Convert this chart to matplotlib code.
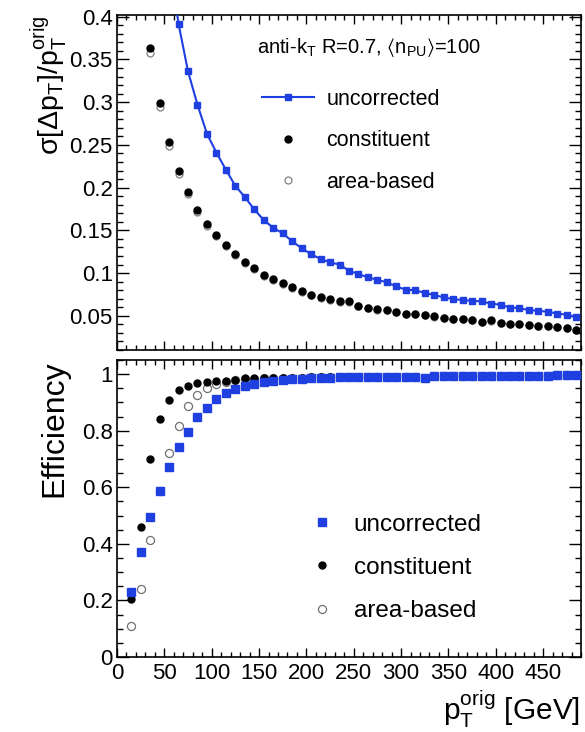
import matplotlib
matplotlib.use("Agg")
import matplotlib.pyplot as plt
from matplotlib.ticker import MultipleLocator, FuncFormatter

plt.rcParams['font.family'] = ['Liberation Sans', 'DejaVu Sans']
plt.rcParams['mathtext.fontset'] = 'custom'
plt.rcParams['mathtext.rm'] = 'Liberation Sans'
plt.rcParams['mathtext.it'] = 'Liberation Sans'
plt.rcParams['mathtext.bf'] = 'Liberation Sans:bold'
plt.rcParams['mathtext.default'] = 'regular'

# ---------------- data ----------------
# resolution panel
pt_unc_res = [55, 65, 75, 85, 95, 105, 115, 125, 135, 145, 155, 165, 175, 185, 195,
              205, 215, 225, 235, 245, 255, 265, 275, 285, 295, 305, 315, 325, 335,
              345, 355, 365, 375, 385, 395, 405, 415, 425, 435, 445, 455, 465, 475, 485]
res_uncorrected = [0.470, 0.3915, 0.336, 0.297, 0.263, 0.241, 0.221, 0.202, 0.189, 0.1745,
                   0.162, 0.153, 0.1466, 0.1372, 0.1292, 0.122, 0.1165, 0.1126, 0.1099,
                   0.1028, 0.0989, 0.095, 0.0922, 0.0891, 0.0844, 0.0805, 0.0800, 0.0767,
                   0.0745, 0.0715, 0.0696, 0.0684, 0.0676, 0.0668, 0.0644, 0.0629, 0.0597,
                   0.0590, 0.0567, 0.0559, 0.0547, 0.0527, 0.0512, 0.0488]

pt_res = [35, 45, 55, 65, 75, 85, 95, 105, 115, 125, 135, 145, 155, 165, 175, 185, 195,
          205, 215, 225, 235, 245, 255, 265, 275, 285, 295, 305, 315, 325, 335,
          345, 355, 365, 375, 385, 395, 405, 415, 425, 435, 445, 455, 465, 475, 485]
res_constituent = [0.363, 0.2985, 0.2534, 0.219, 0.1947, 0.1744, 0.157, 0.1447, 0.1333,
                   0.1224, 0.1134, 0.1055, 0.098, 0.0931, 0.0884, 0.0832, 0.0789, 0.0746,
                   0.0715, 0.0696, 0.0668, 0.0668, 0.0617, 0.0597, 0.0578, 0.0570, 0.0547,
                   0.0520, 0.0520, 0.0512, 0.0496, 0.0473, 0.0461, 0.0461, 0.0449, 0.0433,
                   0.0449, 0.0421, 0.0410, 0.0402, 0.0394, 0.0382, 0.0382, 0.0371, 0.0356,
                   0.0332]
res_area = [0.358, 0.294, 0.249, 0.216, 0.192, 0.172, 0.155, 0.143, 0.132, 0.121, 0.112,
            0.1045, 0.097, 0.092, 0.0875, 0.0825, 0.078, 0.074, 0.071, 0.069, 0.066,
            0.066, 0.061, 0.059, 0.0573, 0.0565, 0.0542, 0.0516, 0.0516, 0.0508, 0.0492,
            0.047, 0.0458, 0.0458, 0.0446, 0.043, 0.0445, 0.0418, 0.0407, 0.040, 0.0391,
            0.038, 0.038, 0.0368, 0.0354, 0.033]

# efficiency panel
pt_eff = [15, 25, 35, 45, 55, 65, 75, 85, 95, 105, 115, 125, 135, 145, 155, 165, 175,
          185, 195, 205, 215, 225, 235, 245, 255, 265, 275, 285, 295, 305, 315, 325,
          335, 345, 355, 365, 375, 385, 395, 405, 415, 425, 435, 445, 455, 465, 475, 485]
eff_uncorrected = [0.229, 0.370, 0.494, 0.588, 0.673, 0.744, 0.796, 0.849, 0.882, 0.912,
                   0.932, 0.946, 0.958, 0.965, 0.972, 0.977, 0.980, 0.983, 0.984, 0.986,
                   0.987, 0.988, 0.989, 0.989, 0.990, 0.990, 0.990, 0.991, 0.990, 0.991,
                   0.991, 0.988, 0.992, 0.992, 0.992, 0.993, 0.993, 0.993, 0.993, 0.993,
                   0.994, 0.994, 0.994, 0.995, 0.995, 0.996, 0.996, 0.996]
eff_constituent = [0.205, 0.459, 0.699, 0.840, 0.908, 0.944, 0.959, 0.969, 0.973, 0.976,
                   0.976, 0.981, 0.985, 0.986, 0.987, 0.987, 0.988, 0.988, 0.986, 0.989,
                   0.989, 0.989, 0.990, 0.990, 0.990, 0.990, 0.991, 0.991, 0.990, 0.991,
                   0.991, 0.988, 0.992, 0.992, 0.992, 0.993, 0.993, 0.993, 0.993, 0.993,
                   0.994, 0.994, 0.994, 0.995, 0.995, 0.996, 0.996, 0.996]
eff_area = [0.111, 0.241, 0.414, 0.588, 0.720, 0.817, 0.887, 0.926, 0.950, 0.965, 0.973,
            0.978, 0.982, 0.984, 0.986, 0.987, 0.988, 0.988, 0.986, 0.989, 0.989, 0.989,
            0.990, 0.990, 0.990, 0.990, 0.991, 0.991, 0.990, 0.991, 0.991, 0.988, 0.992,
            0.992, 0.992, 0.993, 0.993, 0.993, 0.993, 0.993, 0.994, 0.994, 0.994, 0.995,
            0.995, 0.996, 0.996, 0.996]

labels = ['uncorrected', 'constituent', 'area-based']
header = r'anti-$k_{T}$ R=0.7, $\langle n_{PU}\rangle$=100'

# ---------------- figure ----------------
BLUE = '#1f3fe0'
W, H = 585, 732
fig = plt.figure(figsize=(W / 100, H / 100), dpi=100)

def frac(left, top, right, bottom):
    return [left / W, 1 - bottom / H, (right - left) / W, (bottom - top) / H]

ax1 = fig.add_axes(frac(117, 15, 581, 350))
ax2 = fig.add_axes(frac(117, 360, 581, 657))

fmt = FuncFormatter(lambda v, p: '%g' % round(v, 4))

# top panel
ha, = ax1.plot(pt_res, res_area, 'o', ms=5.0, mfc='none', mec='#808080', mew=0.9,
               label=labels[2], zorder=3)
hc, = ax1.plot(pt_res, res_constituent, 'o', ms=5.0, color='black', label=labels[1],
               zorder=4)
hu, = ax1.plot(pt_unc_res, res_uncorrected, 's', ls='-', lw=1.5, ms=4.8, color=BLUE,
               label=labels[0], zorder=5)
ax1.set_xlim(0, 490)
ax1.set_ylim(0.01, 0.402)
ax1.yaxis.set_major_locator(MultipleLocator(0.05))
ax1.yaxis.set_minor_locator(MultipleLocator(0.01))
ax1.yaxis.set_major_formatter(fmt)
ax1.set_ylabel(r'$\sigma[\Delta p_{T}]/p_{T}^{orig}$', fontsize=20.5, loc='top')
ax1.yaxis.set_label_coords(-0.102, 1.0)
ax1.tick_params(labelbottom=False)
ax1.text(0.302, 0.904, header, transform=ax1.transAxes, fontsize=14.5,
         ha='left', va='center')
ax1.legend(handles=[hu, hc, ha], loc='upper left', bbox_to_anchor=(0.3125, 0.78),
           frameon=False, fontsize=15.5, borderpad=0, borderaxespad=0,
           handlelength=2.43, handletextpad=0.55, labelspacing=0.95, numpoints=1)

# bottom panel
ha2, = ax2.plot(pt_eff, eff_area, 'o', ms=5.8, mfc='none', mec='#707070', mew=0.9,
                label=labels[2], zorder=3)
hc2, = ax2.plot(pt_eff, eff_constituent, 'o', ms=5.0, color='black', label=labels[1],
                zorder=4)
hu2, = ax2.plot(pt_eff, eff_uncorrected, 's', ms=5.2, color=BLUE, label=labels[0],
                zorder=5)
ax2.set_xlim(0, 490)
ax2.set_ylim(0, 1.05)
ax2.yaxis.set_major_locator(MultipleLocator(0.2))
ax2.yaxis.set_minor_locator(MultipleLocator(0.05))
ax2.yaxis.set_major_formatter(fmt)
ax2.set_ylabel('Efficiency', fontsize=23, loc='top')
ax2.yaxis.set_label_coords(-0.102, 1.0)
ax2.set_xlabel(r'$p_{T}^{orig}$ [GeV]', fontsize=21.5, loc='right')
ax2.xaxis.set_label_coords(0.997, -0.108)
ax2.legend(handles=[hu2, hc2, ha2], loc='upper left', bbox_to_anchor=(0.399, 0.483),
           frameon=False, fontsize=17.5, borderpad=0, borderaxespad=0,
           handlelength=1.6, handletextpad=0.52, labelspacing=0.88, numpoints=1)

for ax in (ax1, ax2):
    ax.xaxis.set_major_locator(MultipleLocator(50))
    ax.xaxis.set_minor_locator(MultipleLocator(10))
    ax.xaxis.set_major_formatter(fmt)
    ax.tick_params(which='both', direction='in', top=True, right=True,
                   labelsize=16, width=1.0, color='black')
    ax.tick_params(axis='y', which='major', length=8.5, pad=3)
    ax.tick_params(axis='y', which='minor', length=4.5)
    ax.tick_params(axis='x', which='major', length=6.5, pad=4)
    ax.tick_params(axis='x', which='minor', length=3.5)
    for s in ax.spines.values():
        s.set_linewidth(1.2)

fig.savefig('out.png', dpi=100)
